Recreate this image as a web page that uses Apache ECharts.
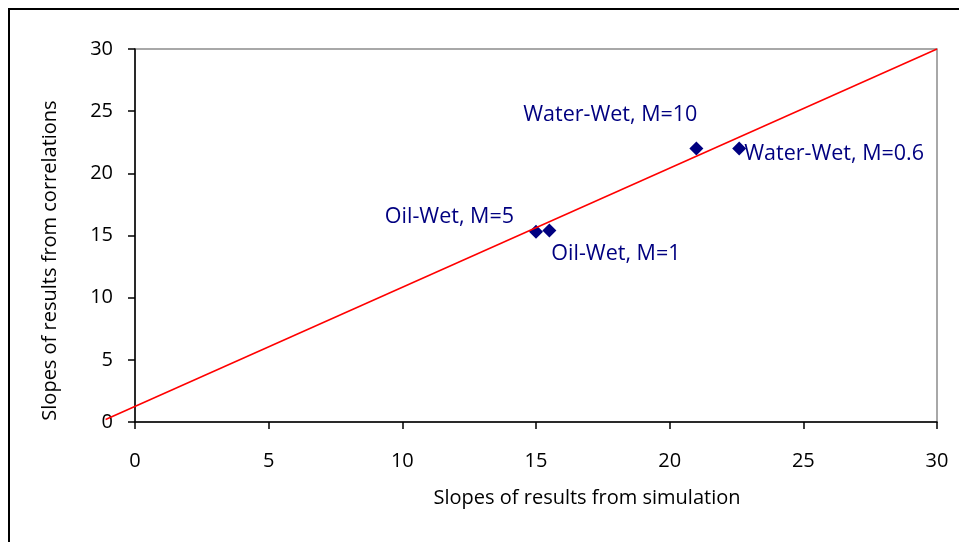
<!DOCTYPE html>
<html>
<head>
<meta charset="utf-8">
<script src="https://cdn.jsdelivr.net/npm/echarts@6/dist/echarts.min.js"></script>
<style>
  html, body { margin: 0; padding: 0; background: #fff; }
  #chart { width: 959px; height: 542px; }
</style>
</head>
<body>
<div id="chart"></div>
<script>
// Case labels and their (simulation slope, correlation slope) pairs
const caseNames = ['Oil-Wet, M=5', 'Oil-Wet, M=1', 'Water-Wet, M=10', 'Water-Wet, M=0.6'];
const simSlopes = [15.0, 15.5, 21.0, 22.6];
const corrSlopes = [15.3, 15.4, 22.0, 22.0];

// Fitted trend line end points [x, y]
const trendX = [-1.1, 30];
const trendY = [0.2, 30];

// Tick values for both axes
const axisMin = 0, axisMax = 30, axisStep = 5;

const FONT = '"Open Sans", "Liberation Sans", sans-serif';
const FS = 20;        // axis text
const FS_LABEL = 21.5; // point labels

// Per-label placement around each marker
const labelLayout = [
  { position: 'left', offset: [-10, -15] },
  { position: 'right', offset: [-10, 23] },
  { position: 'left', offset: [13, -34] },
  { position: 'right', offset: [-7, 5] }
];

const points = caseNames.map((name, i) => ({
  name: name,
  value: [simSlopes[i], corrSlopes[i]],
  label: {
    show: true,
    formatter: name,
    position: labelLayout[i].position,
    offset: labelLayout[i].offset,
    distance: 5
  }
}));

const chart = echarts.init(document.getElementById('chart'), null, { renderer: 'canvas' });

const axisCommon = {
  type: 'value',
  min: axisMin,
  max: axisMax,
  interval: axisStep,
  splitLine: { show: false },
  axisLine: { show: true, lineStyle: { color: '#000', width: 1.5 } },
  axisTick: { show: true, inside: false, length: 7, lineStyle: { color: '#000', width: 1.5 } },
  nameLocation: 'middle'
};

chart.setOption({
  animation: false,
  backgroundColor: '#fff',
  graphic: [{
    type: 'rect',
    shape: { x: 9, y: 9, width: 1000, height: 600 },
    style: { fill: 'none', stroke: '#000', lineWidth: 2 },
    silent: true,
    z: -1
  }],
  grid: {
    left: 135, top: 49, right: 22, bottom: 120,
    show: true, borderColor: '#8c8c8c', borderWidth: 1.5, backgroundColor: 'transparent'
  },
  xAxis: Object.assign({}, axisCommon, {
    name: 'Slopes of results from simulation',
    nameGap: 66,
    nameTextStyle: { fontFamily: FONT, fontSize: FS, color: '#000', padding: [0, 0, 0, 102] },
    axisLabel: { fontFamily: FONT, fontSize: FS, color: '#000', margin: 29 }
  }),
  yAxis: Object.assign({}, axisCommon, {
    name: 'Slopes of results from correlations',
    nameGap: 75,
    nameTextStyle: { fontFamily: FONT, fontSize: FS, color: '#000', padding: [0, 50, 0, 0] },
    axisLabel: { fontFamily: FONT, fontSize: FS, color: '#000', margin: 22 }
  }),
  series: [
    {
      // Trend line, allowed to run past the left edge of the plot
      type: 'custom',
      clip: false,
      data: [[trendX[0], trendY[0], trendX[1], trendY[1]]],
      renderItem: function (params, api) {
        const p0 = api.coord([api.value(0), api.value(1)]);
        const p1 = api.coord([api.value(2), api.value(3)]);
        return {
          type: 'line',
          shape: { x1: p0[0], y1: p0[1], x2: p1[0], y2: p1[1] },
          style: { stroke: '#ff0000', lineWidth: 1.5 }
        };
      },
      encode: { x: [0, 2], y: [1, 3] },
      z: 3
    },
    {
      type: 'scatter',
      data: points,
      symbol: 'diamond',
      symbolSize: 14,
      itemStyle: { color: '#000080', opacity: 1 },
      label: { fontFamily: FONT, fontSize: FS_LABEL, color: '#000080' },
      z: 2
    }
  ]
});
</script>
</body>
</html>
